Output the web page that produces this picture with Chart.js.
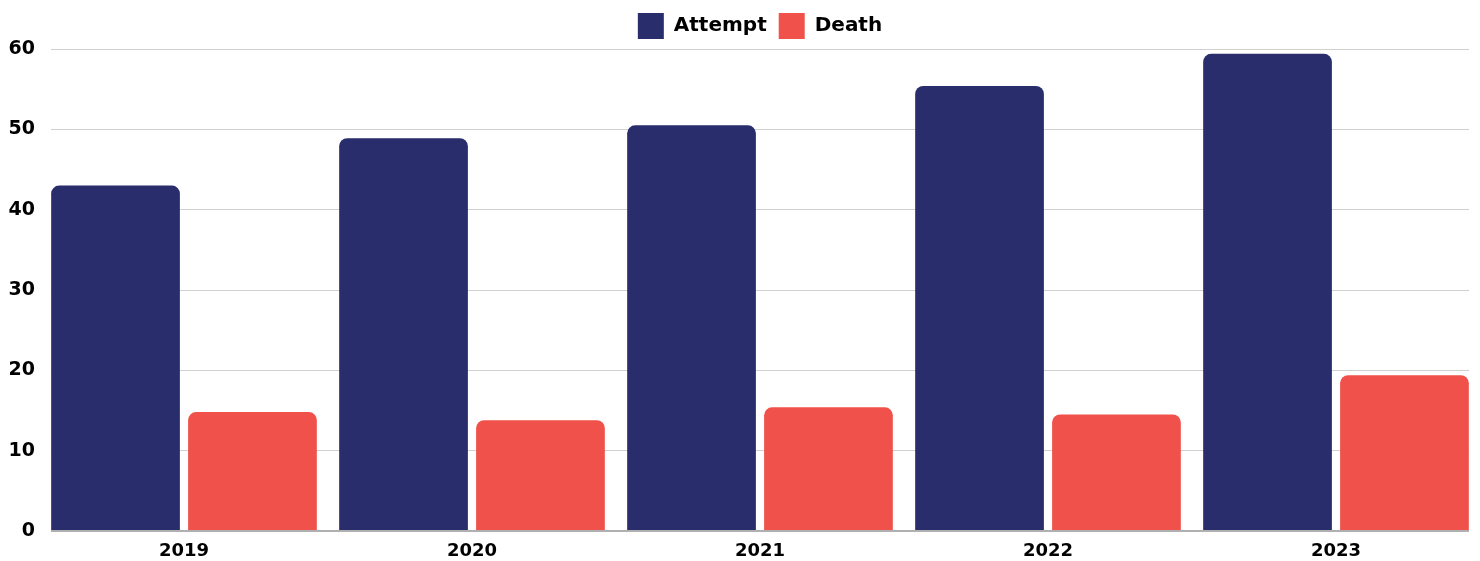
<!DOCTYPE html>
<html>
<head>
<meta charset="utf-8">
<script src="https://cdn.jsdelivr.net/npm/chart.js@4"></script>
<style>
  html, body { margin: 0; padding: 0; background: #fff; }
  #wrap { width: 1480px; height: 561px; }
</style>
</head>
<body>
<div id="wrap"><canvas id="attemptChart"></canvas></div>
<script>
var years = ['2019', '2020', '2021', '2022', '2023'];
var attempt = [43.0, 48.9, 50.5, 55.4, 59.4];
var death = [14.8, 13.8, 15.4, 14.5, 19.4];
var yTicks = [0, 10, 20, 30, 40, 50, 60];

// stretch the category scale a bit past the plot edges so the outer bars sit flush,
// and centre the legend over the plot area instead of the whole canvas
var widenX = {
  id: 'widenX',
  afterLayout: function (chart) {
    var x = chart.scales.x;
    x.left -= 11;
    x.right += 11;
    x.width += 22;
    x.configure();
    var area = chart.chartArea;
    chart.legend.left = area.left;
    chart.legend.right = area.right;
  }
};

var font = "'DejaVu Sans', sans-serif";
var ctx = document.getElementById('attemptChart').getContext('2d');
new Chart(ctx, {
  type: 'bar',
  data: {
    labels: years,
    datasets: [{
      label: 'Attempt',
      backgroundColor: '#2a2d6b',
      data: attempt,
      borderRadius: { topLeft: 8, topRight: 8, bottomLeft: 0, bottomRight: 0 },
      borderSkipped: false
    },
    {
      label: 'Death',
      backgroundColor: '#f0514a',
      data: death,
      borderRadius: { topLeft: 8, topRight: 8, bottomLeft: 0, bottomRight: 0 },
      borderSkipped: false
    }]
  },
  options: {
    responsive: true,
    maintainAspectRatio: false,
    animation: false,
    categoryPercentage: 0.951,
    barPercentage: 0.94,
    layout: {
      padding: { top: 1, right: 11, bottom: 0, left: 0 }
    },
    plugins: {
      legend: {
        display: true,
        labels: {
          boxWidth: 26,
          boxHeight: 26,
          padding: 12,
          color: '#000',
          font: { family: font, size: 20, weight: 'bold' }
        }
      },
      tooltip: { enabled: false }
    },
    scales: {
      y: {
        min: 0,
        max: 60,
        afterBuildTicks: function (axis) {
          axis.ticks = yTicks.map(function (v) { return { value: v }; });
        },
        afterFit: function (axis) { axis.width = 51; },
        border: { display: false },
        grid: {
          display: true,
          drawTicks: false,
          color: function (c) { return c.tick.value === 0 ? '#b0b0b0' : '#d0d0d0'; },
          lineWidth: function (c) { return c.tick.value === 0 ? 2 : 1; }
        },
        ticks: {
          padding: 16,
          color: '#000',
          font: { family: font, size: 19, weight: 'bold' }
        }
      },
      x: {
        afterFit: function (axis) { axis.height = 30; },
        border: { display: false },
        grid: { display: false, drawTicks: false },
        ticks: {
          padding: 10,
          color: '#000',
          font: { family: font, size: 18, weight: 'bold' }
        }
      }
    }
  },
  plugins: [widenX]
});
</script>
</body>
</html>
